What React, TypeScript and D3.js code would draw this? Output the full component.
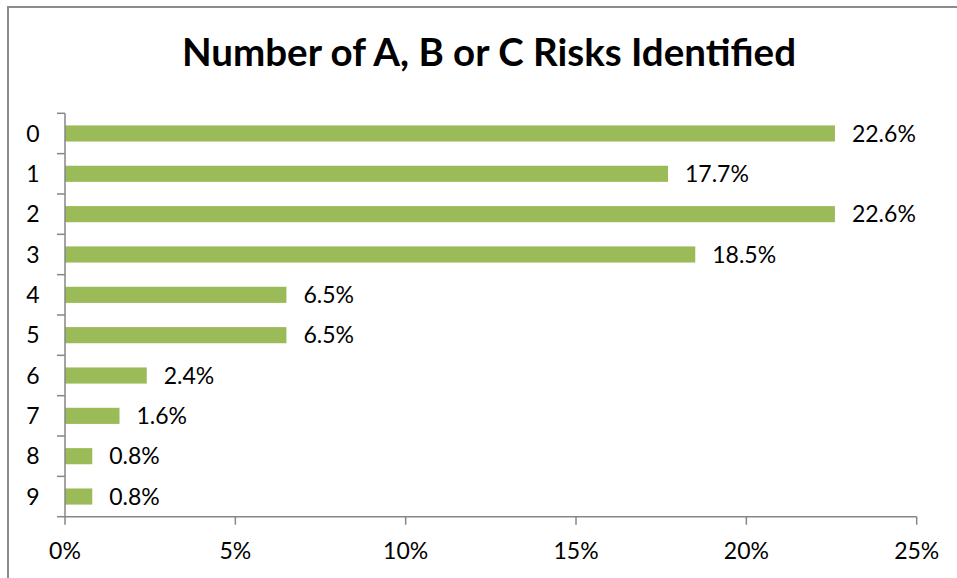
import * as d3 from "d3";

const categories = ["0", "1", "2", "3", "4", "5", "6", "7", "8", "9"];
const values = [22.6, 17.7, 22.6, 18.5, 6.5, 6.5, 2.4, 1.6, 0.8, 0.8];
const xTicks = [0, 5, 10, 15, 20, 25];
const title = "Number of A, B or C Risks Identified";

export default function App() {
  const width = 957;
  const height = 578;
  const marginLeft = 65;
  const marginRight = 957 - 916.7;
  const marginTop = 113.3;
  const marginBottom = 578 - 516.7;

  const font = "Lato, 'Open Sans', sans-serif";
  const axisColor = "#868686";

  // horizontal value scale, in percent
  const x = d3.scaleLinear([0, 25], [marginLeft, width - marginRight]);

  // one band per category, bars take 40% of it
  const y = d3
    .scaleBand(categories, [marginTop, height - marginBottom])
    .paddingInner(0.6)
    .paddingOuter(0.3);
  const yBands = d3.scaleBand(categories, [marginTop, height - marginBottom]);

  const data = categories.map((c, i) => ({ cat: c, value: values[i] }));

  return (
    <svg
      width={width}
      height={height}
      style={{ position: "absolute", left: 0, top: 0, display: "block" }}
    >
      <rect x={0} y={0} width={width} height={height} fill="white" />
      {/* chart border, runs off right and bottom */}
      <path d={`M8,${height + 5}V7H${width + 5}`} fill="none" stroke="#8c8c8c" strokeWidth={2} />

      <text
        x={489}
        y={66}
        textAnchor="middle"
        fontFamily={font}
        fontWeight="bold"
        fontSize={38.5}
      >
        {title}
      </text>

      {/* bars */}
      {data.map((d) => (
        <rect
          key={d.cat}
          x={x(0)}
          y={y(d.cat)}
          width={x(d.value) - x(0)}
          height={y.bandwidth()}
          fill="#9bbb59"
        />
      ))}

      {/* value labels */}
      {data.map((d) => (
        <text
          key={"l" + d.cat}
          x={x(d.value) + 17}
          y={y(d.cat)! + y.bandwidth() / 2}
          dy="0.35em"
          fontFamily={font}
          fontSize={23}
        >
          {d.value.toFixed(1)}%
        </text>
      ))}

      {/* y axis */}
      <line x1={marginLeft} x2={marginLeft} y1={marginTop} y2={height - marginBottom} stroke={axisColor} strokeWidth={1.5} />
      {categories.map((c) => (
        <line
          key={"t" + c}
          x1={marginLeft - 8}
          x2={marginLeft}
          y1={yBands(c)}
          y2={yBands(c)}
          stroke={axisColor}
          strokeWidth={1.5}
        />
      ))}
      <line
        x1={marginLeft - 8}
        x2={marginLeft}
        y1={height - marginBottom}
        y2={height - marginBottom}
        stroke={axisColor}
        strokeWidth={1.5}
      />
      {categories.map((c) => (
        <text
          key={"c" + c}
          x={39.5}
          y={yBands(c)! + yBands.bandwidth() / 2}
          dy="0.35em"
          textAnchor="end"
          fontFamily={font}
          fontSize={23}
        >
          {c}
        </text>
      ))}

      {/* x axis */}
      <line x1={marginLeft} x2={width - marginRight} y1={height - marginBottom} y2={height - marginBottom} stroke={axisColor} strokeWidth={1.5} />
      {xTicks.map((t) => (
        <g key={"x" + t}>
          <line x1={x(t)} x2={x(t)} y1={height - marginBottom} y2={height - marginBottom + 8} stroke={axisColor} strokeWidth={1.5} />
          <text
            x={x(t)}
            y={559}
            textAnchor="middle"
            fontFamily={font}
            fontSize={23}
          >
            {t}%
          </text>
        </g>
      ))}
    </svg>
  );
}
